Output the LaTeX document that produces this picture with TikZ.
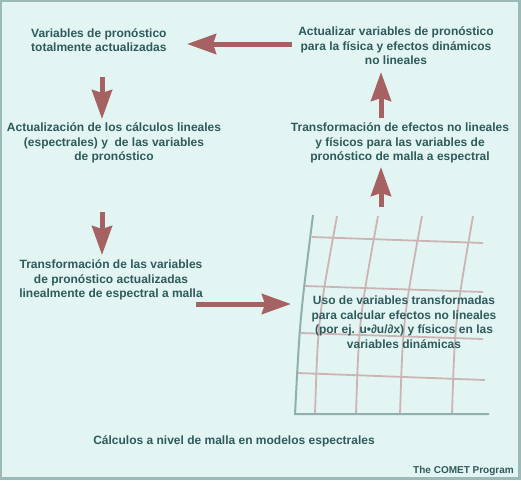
\documentclass[tikz,border=0pt]{standalone}
\usepackage{fontspec}
\setmainfont{Liberation Sans}
\usepackage{tikz}
\usetikzlibrary{arrows.meta}
\definecolor{bgcol}{RGB}{226,245,242}
\definecolor{framecol}{RGB}{155,186,183}
\definecolor{txtcol}{RGB}{47,90,92}
\definecolor{arrcol}{RGB}{166,98,98}
\definecolor{gridcol}{RGB}{204,180,180}
\definecolor{axiscol}{RGB}{143,176,173}

\begin{document}
\begin{tikzpicture}[x=1pt, y=-1pt,
        txt/.style={text=txtcol, font=\bfseries\fontsize{12}{14.5}\selectfont, align=center, inner sep=0pt},
        bigarrow/.style={draw=arrcol, line width=5pt, -{Stealth[length=29pt, width=20pt, inset=3pt]}},
        gridline/.style={draw=gridcol, line width=1.8pt},
        axisline/.style={draw=axiscol, line width=2pt}]
            \useasboundingbox (0, 0) rectangle (521, 480);
            \fill[framecol] (0, 0) rectangle (521, 480);
            \fill[bgcol] (2, 2) rectangle (518, 477);

            \draw[gridline] (337, 216) .. controls (318, 320) .. (315, 414);
            \draw[gridline] (378, 216) .. controls (359, 320) .. (356, 414);
            \draw[gridline] (422, 216) .. controls (403, 320) .. (400, 414);
            \draw[gridline] (473, 216) .. controls (455, 320) .. (452, 414);
            \draw[gridline] (312, 237) -- (483, 243);
            \draw[gridline] (305, 286) -- (483, 292);
            \draw[gridline] (301, 333) -- (483, 339);
            \draw[gridline] (297, 373) -- (485, 380);
            \draw[axisline] (313, 215) .. controls (300, 318) .. (295, 414) -- (489, 414);

            \node[txt, align=left, anchor=west] (T1) at (31, 40) {Variables de pronóstico\\totalmente actualizadas};
            \node[txt] (T2) at (114, 143) {Actualización de los cálculos lineales\\(espectrales) y\ \ de las variables\\de pronóstico};
            \node[txt] (T3) at (111, 280) {Transformación de las variables\\de pronóstico actualizadas\\linealmente de espectral a malla};
            \node[txt] (T4) at (396, 46) {Actualizar variables de pronóstico\\para la física y efectos dinámicos\\no lineales};
            \node[txt] (T5) at (400, 143) {Transformación de efectos no lineales\\y físicos para las variables de\\pronóstico de malla a espectral};
            \node[txt] (T6) at (404, 322) {Uso de variables transformadas\\para calcular efectos no lineales\\(por ej. u•∂u/∂x) y físicos en las\\variables dinámicas};
            \node[txt] (T7) at (234, 441) {Cálculos a nivel de malla en modelos espectrales};
            \node[txt, font=\bfseries\fontsize{10}{12}\selectfont, anchor=east] (T8) at (514, 471) {The COMET Program};

            \coordinate (L1) at (292, 44);
            \coordinate (L2) at (187, 44);
            \coordinate (D1) at (102, 77);
            \coordinate (D2) at (102, 119);
            \coordinate (D3) at (102, 212);
            \coordinate (D4) at (102, 255);
            \coordinate (R1) at (196, 304);
            \coordinate (R2) at (291, 304);
            \coordinate (U1) at (381, 118);
            \coordinate (U2) at (381, 72);
            \coordinate (U3) at (381, 207);
            \coordinate (U4) at (381, 167);

            \draw[bigarrow] (L1) -- (L2);
            \draw[bigarrow] (D1) -- (D2);
            \draw[bigarrow] (D3) -- (D4);
            \draw[bigarrow] (R1) -- (R2);
            \draw[bigarrow] (U1) -- (U2);
            \draw[bigarrow] (U3) -- (U4);

        \end{tikzpicture}
\end{document}
